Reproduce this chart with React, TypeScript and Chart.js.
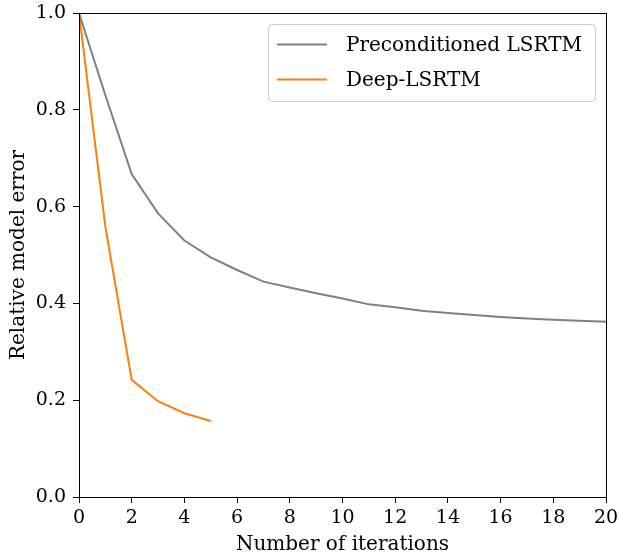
import React, { useEffect, useRef } from "react";
import { Chart, registerables } from "chart.js";

Chart.register(...registerables);

const iterations = [0, 1, 2, 3, 4, 5, 6, 7, 8, 9, 10, 11, 12, 13, 14, 15, 16, 17, 18, 19, 20];
const preconditioned = [1.0, 0.83, 0.667, 0.586, 0.53, 0.495, 0.469, 0.445, 0.433, 0.421, 0.41, 0.398, 0.392, 0.385, 0.38, 0.376, 0.372, 0.369, 0.366, 0.364, 0.362];
const deepIterations = [0, 1, 2, 3, 4, 5];
const deep = [1.0, 0.558, 0.242, 0.198, 0.173, 0.157];
const seriesLabels = ["Preconditioned LSRTM", "Deep-LSRTM"];
const seriesColors = ["#808080", "#ff7f0e"];

const FONT = "'DejaVu Serif', 'Liberation Serif', serif";
const FS = 19;
const FT = 20;

const frameAndLegend = {
  id: "frameAndLegend",
  afterDraw(chart: any) {
    const { ctx, chartArea } = chart;
    ctx.save();
    ctx.strokeStyle = "#000";
    ctx.lineWidth = 1;
    ctx.strokeRect(
      Math.round(chartArea.left) + 0.5,
      Math.round(chartArea.top) + 0.5,
      Math.round(chartArea.right - chartArea.left),
      Math.round(chartArea.bottom - chartArea.top)
    );
    // legend
    const bx = 268.5, by = 24.5, bw = 327, bh = 77, r = 4;
    ctx.beginPath();
    ctx.moveTo(bx + r, by);
    ctx.lineTo(bx + bw - r, by);
    ctx.arcTo(bx + bw, by, bx + bw, by + r, r);
    ctx.lineTo(bx + bw, by + bh - r);
    ctx.arcTo(bx + bw, by + bh, bx + bw - r, by + bh, r);
    ctx.lineTo(bx + r, by + bh);
    ctx.arcTo(bx, by + bh, bx, by + bh - r, r);
    ctx.lineTo(bx, by + r);
    ctx.arcTo(bx, by, bx + r, by, r);
    ctx.closePath();
    ctx.fillStyle = "rgba(255,255,255,0.8)";
    ctx.fill();
    ctx.strokeStyle = "#cccccc";
    ctx.stroke();
    chart.data.datasets.forEach((ds: any, i: number) => {
      const y = 44.5 + i * 35;
      ctx.strokeStyle = ds.borderColor;
      ctx.lineWidth = 2;
      ctx.beginPath();
      ctx.moveTo(277, y);
      ctx.lineTo(327, y);
      ctx.stroke();
      ctx.fillStyle = "#000";
      ctx.font = `${FT}px ${FONT}`;
      ctx.textBaseline = "middle";
      ctx.textAlign = "left";
      ctx.fillText(ds.label, 346, y + 1);
    });
    ctx.restore();
  },
};

export default function App() {
  const ref = useRef<HTMLCanvasElement>(null);
  useEffect(() => {
    document.body.style.margin = "0";
    const canvas = ref.current!;
    const chart = new Chart(canvas, {
      type: "line",
      data: {
        datasets: [
          {
            label: seriesLabels[0],
            data: iterations.map((x, i) => ({ x, y: preconditioned[i] })),
            borderColor: seriesColors[0],
            backgroundColor: seriesColors[0],
            borderWidth: 2,
            pointRadius: 0,
            tension: 0,
          },
          {
            label: seriesLabels[1],
            data: deepIterations.map((x, i) => ({ x, y: deep[i] })),
            borderColor: seriesColors[1],
            backgroundColor: seriesColors[1],
            borderWidth: 2,
            pointRadius: 0,
            tension: 0,
          },
        ],
      },
      options: {
        animation: false,
        responsive: false,
        events: [],
        layout: { padding: { left: 0, top: 13, right: 13, bottom: 0 } },
        plugins: { legend: { display: false }, tooltip: { enabled: false } },
        scales: {
          x: {
            type: "linear",
            min: 0,
            max: 20,
            ticks: { stepSize: 2, color: "#000", font: { family: FONT, size: FS }, padding: 4, maxRotation: 0 },
            grid: { drawOnChartArea: false, drawTicks: true, tickLength: 6, color: "#000" },
            border: { display: true, color: "#000" },
            title: { display: true, text: "Number of iterations", color: "#000", font: { family: FONT, size: FT }, padding: { top: 0, bottom: 0 } },
            afterFit: (s: any) => { s.height = 60; s.paddingLeft = 0; s.paddingRight = 0; },
          },
          y: {
            min: 0,
            max: 1,
            ticks: { stepSize: 0.2, color: "#000", font: { family: FONT, size: FS }, padding: 7, callback: (v: any) => Number(v).toFixed(1) },
            grid: { drawOnChartArea: false, drawTicks: true, tickLength: 6, color: "#000" },
            border: { display: true, color: "#000" },
            title: { display: true, text: "Relative model error", color: "#000", font: { family: FONT, size: FT }, padding: { top: 7, bottom: 0 } },
            afterFit: (s: any) => { s.width = 79; s.paddingTop = 0; s.paddingBottom = 0; },
          },
        },
      },
      plugins: [frameAndLegend],
    });
    return () => chart.destroy();
  }, []);
  return (
    <div style={{ position: "absolute", left: 0, top: 0, width: 619, height: 557 }}>
      <canvas ref={ref} width={619} height={557} />
    </div>
  );
}
